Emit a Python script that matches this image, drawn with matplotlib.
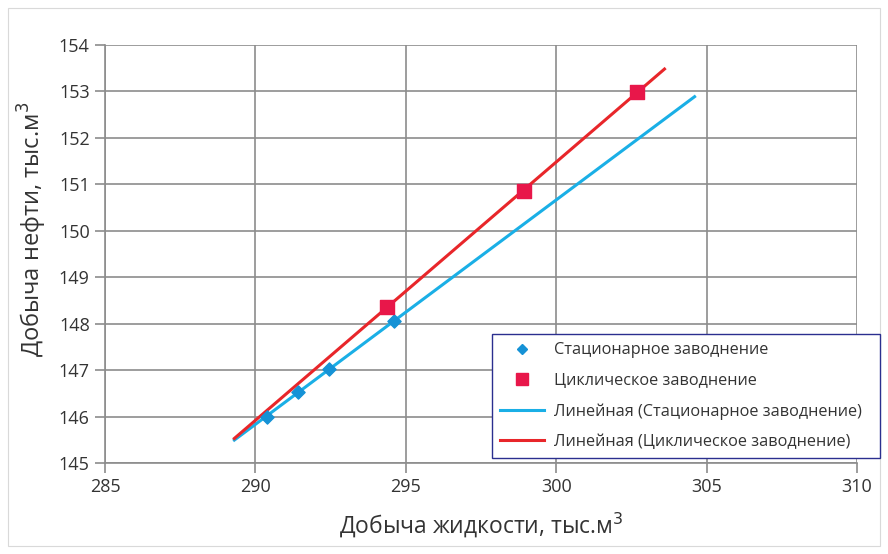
import numpy as np
import matplotlib
matplotlib.use('Agg')
import matplotlib.pyplot as plt
from matplotlib.patches import Rectangle
from matplotlib.lines import Line2D

plt.rcParams['font.family'] = ['Open Sans', 'DejaVu Sans']

# data
stat_x = [290.37, 291.40, 292.45, 294.60]
stat_y = [146.00, 146.52, 147.02, 148.05]
cycl_x = [294.37, 298.93, 302.69]
cycl_y = [148.36, 150.86, 152.99]

# trendline ranges (forecast forward/backward)
stat_range = [289.3, 304.6]
cycl_range = [289.3, 303.6]

x_ticks = [285, 290, 295, 300, 305, 310]
y_ticks = [145, 146, 147, 148, 149, 150, 151, 152, 153, 154]

labels = ['Стационарное заводнение', 'Циклическое заводнение',
          'Линейная (Стационарное заводнение)', 'Линейная (Циклическое заводнение)']

blue_line = '#1AAFE6'
blue_mark = '#1592D6'
red_line = '#E8262A'
red_mark = '#E8174A'

fig = plt.figure(figsize=(8.88, 5.54), dpi=100)
ax = fig.add_axes([105 / 888, 1 - 463 / 554, (857 - 105) / 888, (463 - 45) / 554])

# outer chart frame
fig.patches.append(Rectangle((8 / 888, 8 / 554), 872 / 888, 538 / 554,
                             transform=fig.transFigure, fill=False,
                             edgecolor='#d9d9d9', linewidth=0.8))

# linear trendlines
k1, b1 = np.polyfit(stat_x, stat_y, 1)
k2, b2 = np.polyfit(cycl_x, cycl_y, 1)
xs1 = np.array(stat_range)
xs2 = np.array(cycl_range)

ax.scatter(stat_x, stat_y, marker='D', s=45, color=blue_mark, zorder=4)
ax.scatter(cycl_x, cycl_y, marker='s', s=110, color=red_mark, zorder=4)
ax.plot(xs1, k1 * xs1 + b1, color=blue_line, lw=2.2, zorder=3)
ax.plot(xs2, k2 * xs2 + b2, color=red_line, lw=2.2, zorder=3)

ax.set_xlim(285, 310)
ax.set_ylim(145, 154)
ax.set_xticks(x_ticks)
ax.set_yticks(y_ticks)
ax.grid(True, color='#8c8c8c', linewidth=1.2)
ax.set_axisbelow(True)
for s in ['top', 'right']:
    ax.spines[s].set_visible(False)
for s in ['left', 'bottom']:
    ax.spines[s].set_color('#8c8c8c')
    ax.spines[s].set_linewidth(1.2)
ax.tick_params(axis='both', colors='#8c8c8c', labelcolor='#333333',
               labelsize=13, length=7, width=1.2, pad=4)

ax.set_xlabel('Добыча жидкости, тыс.м$^{3}$', fontsize=16.5, color='#333333')
ax.set_ylabel('Добыча нефти, тыс.м$^{3}$', fontsize=17, color='#333333')
ax.xaxis.set_label_coords(0.5, -0.112)
ax.yaxis.set_label_coords(-0.074, 0.56)

# legend with smaller marker handles
handles = [
    Line2D([], [], ls='none', marker='D', ms=5.5, color=blue_mark),
    Line2D([], [], ls='none', marker='s', ms=8, color=red_mark),
    Line2D([], [], color=blue_line, lw=2.2),
    Line2D([], [], color=red_line, lw=2.2),
]
leg = fig.legend(handles, labels, loc='lower left',
                 bbox_to_anchor=(492 / 888, 1 - 458 / 554, (880 - 492) / 888, (458 - 335) / 554),
                 fontsize=11.7, frameon=True, fancybox=False, framealpha=1,
                 edgecolor='#2b2f8f', handlelength=2.7, handletextpad=0.6,
                 borderpad=0.5, labelspacing=0.88, borderaxespad=0, mode='expand')
leg.get_frame().set_linewidth(1.0)
for t in leg.get_texts():
    t.set_color('#333333')

fig.savefig('out.png', dpi=100)
